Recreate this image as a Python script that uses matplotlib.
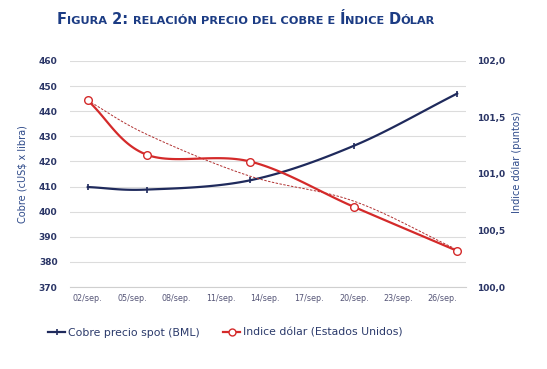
import numpy as np
import matplotlib
matplotlib.use("Agg")
import matplotlib.pyplot as plt
from matplotlib.lines import Line2D

# ---- data ----
days = [0, 4, 11, 18, 25]            # days after 02/sep
copper = [409.8, 408.8, 412.5, 426.2, 447.0]
dollar = [101.65, 101.17, 101.11, 100.71, 100.32]
dollar_trend = [101.65, 101.35, 100.98, 100.76, 100.33]   # dashed trend line
tick_days = [0, 3, 6, 9, 12, 15, 18, 21, 24]
tick_labels = ["02/sep.", "05/sep.", "08/sep.", "11/sep.", "14/sep.",
               "17/sep.", "20/sep.", "23/sep.", "26/sep."]
left_ticks = [370, 380, 390, 400, 410, 420, 430, 440, 450, 460]
right_ticks = [100.0, 100.5, 101.0, 101.5, 102.0]

NAVY = "#1f2a5c"
RED = "#d42a2a"
TXT = "#2a3566"

XLIM = (-1.2, 25.6)
YL = (370, 460)
YR = (100.0, 102.0)


def smooth(x, y, xr, yr, n=30):
    # Catmull-Rom style Bezier through the points, in axis-normalised space
    px = (np.asarray(x, float) - xr[0]) / (xr[1] - xr[0])
    py = (np.asarray(y, float) - yr[0]) / (yr[1] - yr[0])
    P = np.column_stack([px, py])
    P = np.vstack([P[0] - (P[1] - P[0]), P, P[-1] + (P[-1] - P[-2])])
    out = []
    for i in range(1, len(P) - 2):
        p0, p1, p2, p3 = P[i - 1], P[i], P[i + 1], P[i + 2]
        c1 = p1 + (p2 - p0) / 6.0
        c2 = p2 - (p3 - p1) / 6.0
        t = np.linspace(0, 1, n)[:, None]
        seg = ((1 - t) ** 3) * p1 + 3 * ((1 - t) ** 2) * t * c1 + 3 * (1 - t) * t ** 2 * c2 + t ** 3 * p2
        out.append(seg if i == 1 else seg[1:])
    S = np.vstack(out)
    return S[:, 0] * (xr[1] - xr[0]) + xr[0], S[:, 1] * (yr[1] - yr[0]) + yr[0]


fig = plt.figure(figsize=(5.47, 3.69), dpi=100)
fig.patch.set_facecolor("white")
ax = fig.add_axes([0.128, 0.222, 0.724, 0.613])
ax2 = ax.twinx()

ax.set_xlim(*XLIM)
ax.set_ylim(*YL)
ax2.set_ylim(*YR)

# grid
for v in left_ticks:
    ax.axhline(v, color="#dcdcdc", lw=0.8, zorder=0)

# copper
sx, sy = smooth(days, copper, XLIM, YL)
ax.plot(sx, sy, color=NAVY, lw=1.6, zorder=3)
ax.plot(days, copper, ls="none", marker="|", ms=4, mew=1.2, color=NAVY, zorder=4)

# dollar
rx, ry = smooth(days, dollar, XLIM, YR)
ax2.plot(rx, ry, color=RED, lw=1.6, zorder=3)
ax2.plot(days, dollar, ls="none", marker="o", ms=5.5, mfc="white", mec=RED, mew=1.0, zorder=4)
tx, ty = smooth(days, dollar_trend, XLIM, YR)
ax2.plot(tx, ty, color="#b03030", lw=0.7, ls=(0, (2.5, 1.5)), zorder=2)

for a in (ax, ax2):
    for s in a.spines.values():
        s.set_visible(False)
ax.spines["bottom"].set_visible(True)
ax.spines["bottom"].set_color("#cfcfcf")

ax.set_xticks(tick_days)
ax.set_xticklabels(tick_labels, fontsize=5.8, color="#555577")
ax.tick_params(axis="x", length=0, pad=5)
ax.set_yticks(left_ticks)
ax.set_yticklabels([str(v) for v in left_ticks], fontsize=6.5, color=TXT, fontweight="bold")
ax.tick_params(axis="y", length=0, pad=9)
ax2.set_yticks(right_ticks)
ax2.set_yticklabels([f"{v:.1f}".replace(".", ",") for v in right_ticks], fontsize=6.5,
                    color=TXT, fontweight="bold")
ax2.tick_params(axis="y", length=0, pad=8)

ax.set_ylabel("Cobre (cUS$ x libra)", fontsize=7, color="#2e4a8a", labelpad=8)
fig.text(0.945, 0.56, "Indice dólar (puntos)", rotation=90, fontsize=7, color="#2e4a8a",
         ha="center", va="center")

# legend
h1 = Line2D([], [], color=NAVY, lw=1.6, marker="|", ms=4, mew=1.2)
h2 = Line2D([], [], color=RED, lw=1.6, marker="o", ms=5, mfc="white", mec=RED)
fig.legend([h1, h2], ["Cobre precio spot (BML)", "Indice dólar (Estados Unidos)"],
           loc="center left", bbox_to_anchor=(0.07, 0.098), ncol=2, frameon=False,
           fontsize=7.8, handlelength=1.6, handletextpad=0.2, columnspacing=2.2,
           labelcolor="#2b3a6b")

# title in small caps
TC = "#1c3c84"
segments = [("F", 10.5), ("IGURA", 8.2), (" 2: ", 10.5), ("RELACIÓN PRECIO DEL COBRE E ", 8.2),
            ("Í", 10.5), ("NDICE ", 8.2), ("D", 10.5), ("ÓLAR", 8.2)]
fig.canvas.draw()
renderer = fig.canvas.get_renderer()
x = 57
ybase = 369 - 24
for s, fs in segments:
    t = fig.text(x / 547, ybase / 369, s, fontsize=fs, fontweight="bold", color=TC,
                 ha="left", va="baseline")
    bb = t.get_window_extent(renderer=renderer)
    x += bb.width

fig.savefig("out.png", dpi=100, facecolor="white")
